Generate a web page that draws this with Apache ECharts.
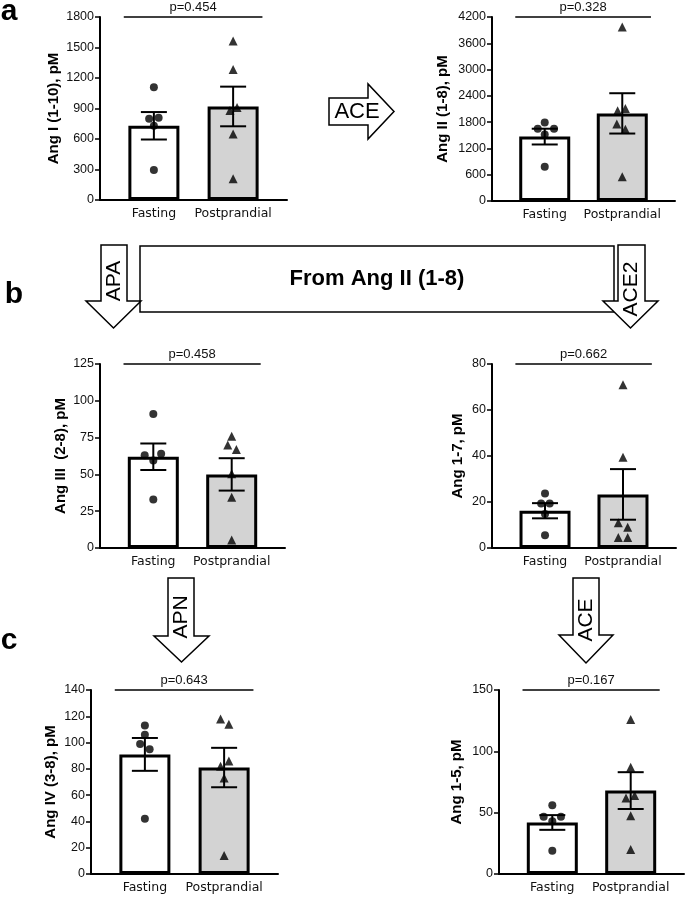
<!DOCTYPE html>
<html>
<head>
<meta charset="utf-8">
<script src="https://cdn.jsdelivr.net/npm/echarts@6/dist/echarts.min.js"></script>
<style>
  html, body { margin: 0; padding: 0; background: #fff; }
  #chart { width: 685px; height: 897px; }
</style>
</head>
<body>
<div id="chart"></div>
<script>
// groups and per-panel values (panels: a-left, a-right, b-left, b-right, c-left, c-right)
const groups = ["Fasting", "Postprandial"];
const yNames = ["Ang I (1-10), pM", "Ang II (1-8), pM", "Ang III  (2-8), pM", "Ang 1-7, pM", "Ang IV (3-8), pM", "Ang 1-5, pM"];
const yMax = [1800, 4200, 125, 80, 140, 150];
const yStep = [300, 600, 25, 20, 20, 50];
const pLabels = ["p=0.454", "p=0.328", "p=0.458", "p=0.662", "p=0.643", "p=0.167"];

const fastMean = [730, 1470, 62, 16.2, 91, 42];
const fastSem = [135, 180, 9, 3.3, 12.5, 6];
const postMean = [920, 2000, 50, 23.3, 81, 68];
const postSem = [195, 460, 11, 11, 15, 15];

const fastPts = [
  [1110, 800, 810, 730, 295],
  [1790, 1650, 1650, 1520, 780],
  [91, 63, 64, 59.5, 33],
  [23.7, 19.4, 19.4, 14.8, 5.5],
  [113, 106, 99, 95, 42],
  [56, 46.7, 46.7, 43, 19]
];
const postPts = [
  [1564, 1283, 880, 910, 648, 210],
  [3970, 2060, 2110, 1755, 1635, 555],
  [76, 70, 67, 50.5, 34.5, 5.5],
  [71, 39.5, 11, 9, 4.6, 4.6],
  [118, 114, 86, 82, 73, 14],
  [126, 87, 64, 62, 47.5, 20]
];
// horizontal spread of the dots inside each group (GraphPad-style scatter)
const fastJitter = [
  [0, -0.06, 0.06, 0, 0],
  [0, -0.09, 0.12, 0, 0],
  [0, -0.11, 0.1, 0, 0],
  [0, -0.05, 0.06, 0, 0],
  [0, 0, -0.06, 0.06, 0],
  [0, -0.11, 0.11, 0, 0]
];
const postJitter = [
  [0, 0, -0.04, 0.05, 0, 0],
  [0, -0.06, 0.04, -0.07, 0.04, 0],
  [0, -0.05, 0.06, 0, 0, 0],
  [0, 0, -0.06, 0.06, -0.06, 0.06],
  [-0.045, 0.06, 0.06, -0.045, 0, 0],
  [0, 0, 0.05, -0.06, 0, 0]
];

const FONT = "Liberation Sans, Arial, sans-serif";
const grids = [
  { left: 100, top: 17, width: 187, height: 183 },
  { left: 492, top: 17, width: 183, height: 184 },
  { left: 100, top: 364, width: 185, height: 184 },
  { left: 492, top: 364, width: 184, height: 184 },
  { left: 91, top: 690, width: 187, height: 184 },
  { left: 499, top: 690, width: 185, height: 184 }
];
const nameGaps = [39, 42, 32, 27, 33, 35];

const chart = echarts.init(document.getElementById("chart"), null, { renderer: "canvas" });

const xAxes = [], yAxes = [], series = [];
grids.forEach((g, i) => {
  xAxes.push({
    type: "value", gridIndex: i, min: -0.68, max: 1.68,
    splitLine: { show: false },
    axisTick: { show: false },
    axisLine: { show: true, onZero: false, lineStyle: { color: "#000", width: 2 } },
    axisLabel: {
      customValues: [0, 1],
      formatter: v => groups[Math.round(v)],
      fontFamily: "DejaVu Sans, sans-serif", fontSize: 12.5, color: "#111", margin: 7
    }
  });
  yAxes.push({
    type: "value", gridIndex: i, min: 0, max: yMax[i], interval: yStep[i],
    splitLine: { show: false },
    axisLine: { show: true, onZero: false, lineStyle: { color: "#000", width: 2 } },
    axisTick: { show: true, length: 5, lineStyle: { color: "#000", width: 1.5 } },
    axisLabel: { fontFamily: FONT, fontSize: 12.5, color: "#111", margin: 6, formatter: v => String(v) },
    name: yNames[i], nameLocation: "middle", nameGap: nameGaps[i],
    nameTextStyle: { fontFamily: FONT, fontSize: 15, fontWeight: "bold", color: "#000" }
  });

  series.push({
    type: "bar", xAxisIndex: i, yAxisIndex: i, barWidth: 51, z: 2,
    itemStyle: { borderColor: "#000", borderWidth: 3 },
    data: [
      { value: [0, fastMean[i]], itemStyle: { color: "#fff" } },
      { value: [1, postMean[i]], itemStyle: { color: "#d3d3d3" } }
    ],
    markLine: {
      silent: true, symbol: "none", animation: false,
      lineStyle: { color: "#000", width: 1.5, type: "solid" },
      label: {
        show: true, position: "insideMiddleTop", distance: 3,
        formatter: pLabels[i], fontFamily: FONT, fontSize: 13, color: "#111"
      },
      data: [[{ coord: [-0.38, yMax[i]] }, { coord: [1.37, yMax[i]] }]]
    }
  });

  series.push({
    type: "custom", xAxisIndex: i, yAxisIndex: i, z: 3,
    data: [[0, fastMean[i], fastSem[i]], [1, postMean[i], postSem[i]]],
    encode: { x: 0, y: 1 },
    renderItem: (params, api) => {
      const x = api.value(0), m = api.value(1), s = api.value(2);
      const hi = api.coord([x, m + s]);
      const lo = api.coord([x, m - s]);
      const cap = 13;
      const st = { stroke: "#000", lineWidth: 2 };
      return {
        type: "group",
        children: [
          { type: "line", shape: { x1: hi[0], y1: hi[1], x2: lo[0], y2: lo[1] }, style: st },
          { type: "line", shape: { x1: hi[0] - cap, y1: hi[1], x2: hi[0] + cap, y2: hi[1] }, style: st },
          { type: "line", shape: { x1: lo[0] - cap, y1: lo[1], x2: lo[0] + cap, y2: lo[1] }, style: st }
        ]
      };
    }
  });

  series.push({
    type: "scatter", xAxisIndex: i, yAxisIndex: i, z: 4,
    symbol: "circle", symbolSize: 8, itemStyle: { color: "#000" },
    data: fastPts[i].map((v, k) => [0 + fastJitter[i][k], v])
  });
  series.push({
    type: "scatter", xAxisIndex: i, yAxisIndex: i, z: 4,
    symbol: "triangle", symbolSize: 9, itemStyle: { color: "#000" },
    data: postPts[i].map((v, k) => [1 + postJitter[i][k], v])
  });
});

const arrowStyle = { fill: "#fff", stroke: "#000", lineWidth: 1.5 };
function downArrow(sx0, sx1, top, headY, hx0, hx1, tipY) {
  const cx = (hx0 + hx1) / 2;
  return {
    type: "polygon", silent: true,
    shape: { points: [[sx0, top], [sx1, top], [sx1, headY], [hx1, headY], [cx, tipY], [hx0, headY], [sx0, headY]] },
    style: arrowStyle
  };
}
function vText(text, x, y) {
  return {
    type: "text", x: x, y: y, rotation: Math.PI / 2, silent: true,
    style: { text: text, fontFamily: FONT, fontSize: 21, fill: "#000", align: "center", verticalAlign: "middle" }
  };
}
function letter(text, x, y) {
  return {
    type: "text", x: x, y: y, silent: true,
    style: { text: text, fontFamily: FONT, fontSize: 30, fontWeight: "bold", fill: "#000", align: "center", verticalAlign: "middle" }
  };
}

const graphics = [
  letter("a", 9, 12),
  letter("b", 14, 295),
  letter("c", 9, 641),
  // ACE (a)
  {
    type: "polygon", silent: true,
    shape: { points: [[329, 98], [368, 98], [368, 84], [394, 111.5], [368, 139], [368, 125], [329, 125]] },
    style: arrowStyle
  },
  {
    type: "text", x: 357, y: 112, silent: true,
    style: { text: "ACE", fontFamily: FONT, fontSize: 22, fill: "#000", align: "center", verticalAlign: "middle" }
  },
  // b header
  { type: "rect", silent: true, shape: { x: 140, y: 246, width: 474, height: 66 }, style: arrowStyle },
  {
    type: "text", x: 377, y: 279, silent: true,
    style: { text: "From Ang II (1-8)", fontFamily: FONT, fontSize: 22, fontWeight: "bold", fill: "#000", align: "center", verticalAlign: "middle" }
  },
  downArrow(101, 127, 245, 301, 86, 141, 328),
  vText("APA", 114, 281),
  downArrow(618, 645, 245, 301, 603, 658, 328),
  vText("ACE2", 631, 289),
  // c
  downArrow(168, 194, 578, 636, 154, 209, 662),
  vText("APN", 181, 617),
  downArrow(573, 599, 578, 635, 559, 613, 663),
  vText("ACE", 586, 620)
];

chart.setOption({
  backgroundColor: "#fff",
  animation: false,
  grid: grids.map(g => Object.assign({ containLabel: false }, g)),
  xAxis: xAxes,
  yAxis: yAxes,
  series: series,
  graphic: graphics
});
</script>
</body>
</html>
